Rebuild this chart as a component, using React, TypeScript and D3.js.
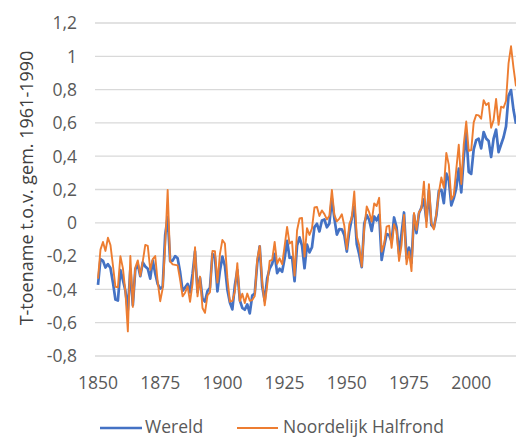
import React from "react";
import * as d3 from "d3";

const startYear = 1850;
const wereld: number[] = [
  -0.373, -0.218, -0.228, -0.269, -0.248, -0.272, -0.358, -0.461, -0.467, -0.284,
  -0.343, -0.407, -0.524, -0.278, -0.494, -0.279, -0.251, -0.321, -0.238, -0.262,
  -0.276, -0.335, -0.227, -0.304, -0.368, -0.395, -0.384, -0.075, 0.035, -0.23,
  -0.227, -0.2, -0.213, -0.296, -0.409, -0.389, -0.367, -0.418, -0.307, -0.171,
  -0.416, -0.33, -0.455, -0.473, -0.41, -0.39, -0.186, -0.206, -0.412, -0.289,
  -0.203, -0.259, -0.402, -0.479, -0.52, -0.377, -0.283, -0.465, -0.511, -0.522,
  -0.49, -0.544, -0.437, -0.424, -0.244, -0.141, -0.383, -0.468, -0.333, -0.275,
  -0.247, -0.187, -0.302, -0.276, -0.294, -0.215, -0.108, -0.21, -0.206, -0.35,
  -0.137, -0.087, -0.137, -0.273, -0.131, -0.178, -0.147, -0.026, -0.006, -0.052,
  0.014, 0.02, -0.027, -0.004, 0.144, 0.025, -0.071, -0.038, -0.039, -0.074,
  -0.173, -0.052, 0.028, 0.097, -0.129, -0.19, -0.267, -0.007, 0.046, 0.017,
  -0.049, 0.038, 0.014, 0.048, -0.223, -0.14, -0.068, -0.074, -0.113, 0.032,
  -0.027, -0.186, -0.065, 0.062, -0.214, -0.149, -0.241, 0.047, -0.062, 0.057,
  0.092, 0.14, 0.011, 0.194, -0.014, -0.03, 0.045, 0.192, 0.198, 0.118,
  0.296, 0.254, 0.105, 0.148, 0.208, 0.325, 0.183, 0.39, 0.539, 0.306,
  0.294, 0.441, 0.496, 0.505, 0.447, 0.545, 0.506, 0.491, 0.395, 0.506,
  0.56, 0.425, 0.47, 0.514, 0.579, 0.763, 0.797, 0.677, 0.595,
];
const noordelijk: number[] = [
  -0.335, -0.161, -0.115, -0.169, -0.09, -0.133, -0.255, -0.384, -0.388, -0.2,
  -0.272, -0.412, -0.652, -0.199, -0.505, -0.269, -0.226, -0.318, -0.232, -0.133,
  -0.139, -0.282, -0.218, -0.2, -0.357, -0.471, -0.394, -0.136, 0.197, -0.232,
  -0.25, -0.253, -0.256, -0.341, -0.442, -0.42, -0.382, -0.475, -0.365, -0.147,
  -0.442, -0.323, -0.512, -0.541, -0.436, -0.417, -0.169, -0.17, -0.359, -0.188,
  -0.103, -0.124, -0.331, -0.474, -0.469, -0.414, -0.242, -0.471, -0.426, -0.482,
  -0.425, -0.468, -0.464, -0.44, -0.218, -0.139, -0.356, -0.496, -0.375, -0.229,
  -0.223, -0.115, -0.246, -0.213, -0.249, -0.142, -0.025, -0.125, -0.113, -0.317,
  -0.046, 0.026, 0.029, -0.203, -0.032, -0.073, -0.034, 0.092, 0.095, 0.041,
  0.074, 0.052, 0.02, 0.042, 0.198, 0.048, 0.009, 0.025, 0.051, -0.017,
  -0.159, -0.008, 0.031, 0.188, -0.081, -0.136, -0.263, -0.035, 0.098, 0.063,
  0.007, 0.116, 0.101, 0.15, -0.173, -0.128, -0.023, -0.017, -0.15, -0.009,
  -0.049, -0.229, -0.134, 0.047, -0.249, -0.174, -0.29, 0.059, -0.043, 0.063,
  0.088, 0.247, -0.026, 0.232, -0.002, -0.04, 0.056, 0.181, 0.272, 0.21,
  0.42, 0.348, 0.139, 0.166, 0.321, 0.469, 0.233, 0.469, 0.608, 0.432,
  0.437, 0.603, 0.648, 0.645, 0.625, 0.737, 0.707, 0.72, 0.571, 0.618,
  0.744, 0.588, 0.698, 0.691, 0.733, 0.957, 1.06, 0.93, 0.82,
];
const yTicks: number[] = [-0.8, -0.6, -0.4, -0.2, 0, 0.2, 0.4, 0.6, 0.8, 1, 1.2];
const xTicks: number[] = [1850, 1875, 1900, 1925, 1950, 1975, 2000];
const yTitle = "T-toename t.o.v. gem. 1961-1990";
const seriesNames = ["Wereld", "Noordelijk Halfrond"];

const W = 516;
const H = 438;
const FONT = "Open Sans, sans-serif";

export default function App() {
  const x = d3.scaleLinear().domain([1850, 2018]).range([98, 516]);
  const y = d3.scaleLinear().domain([-0.8, 1.2]).range([356, 23]);
  const fmt = (v: number) => {
    const r = Math.round(v * 10) / 10;
    if (Number.isInteger(r)) return String(r);
    return r.toFixed(1).replace(".", ",");
  };
  const line = d3
    .line<number>()
    .x((_, i) => x(startYear + i))
    .y((d) => y(d));

  return (
    <svg
      width={W}
      height={H}
      style={{ position: "absolute", left: 0, top: 0, background: "#fff" }}
      fontFamily={FONT}
    >
      <defs>
        <clipPath id="plot">
          <rect x={95} y={0} width={W - 95} height={H} />
        </clipPath>
      </defs>
      {yTicks.map((t) => (
        <g key={t}>
          <line x1={95} x2={W} y1={y(t)} y2={y(t)} stroke="#d9d9d9" strokeWidth={1.3} />
          <text
            x={77}
            y={y(t)}
            dy="0.36em"
            textAnchor="end"
            fontSize={17.5}
            fill="#595959"
          >
            {fmt(t)}
          </text>
        </g>
      ))}
      {xTicks.map((t) => (
        <text key={t} x={x(t)} y={389} textAnchor="middle" fontSize={17.5} fill="#595959">
          {t}
        </text>
      ))}
      <text
        transform={`translate(33,188) rotate(-90)`}
        textAnchor="middle"
        fontSize={18}
        fill="#404040"
      >
        {yTitle}
      </text>
      <g clipPath="url(#plot)">
        <path d={line(wereld) ?? ""} fill="none" stroke="#4472c4" strokeWidth={2.7} strokeLinejoin="round" />
        <path d={line(noordelijk) ?? ""} fill="none" stroke="#ed7d31" strokeWidth={1.9} strokeLinejoin="round" />
      </g>
      <g>
        <line x1={100} x2={142} y1={428} y2={428} stroke="#4472c4" strokeWidth={2.7} />
        <text x={145} y={433} fontSize={17.5} fill="#595959">
          {seriesNames[0]}
        </text>
        <line x1={237} x2={278} y1={428} y2={428} stroke="#ed7d31" strokeWidth={1.9} />
        <text x={283} y={433} fontSize={17.5} fill="#595959">
          {seriesNames[1]}
        </text>
      </g>
    </svg>
  );
}
